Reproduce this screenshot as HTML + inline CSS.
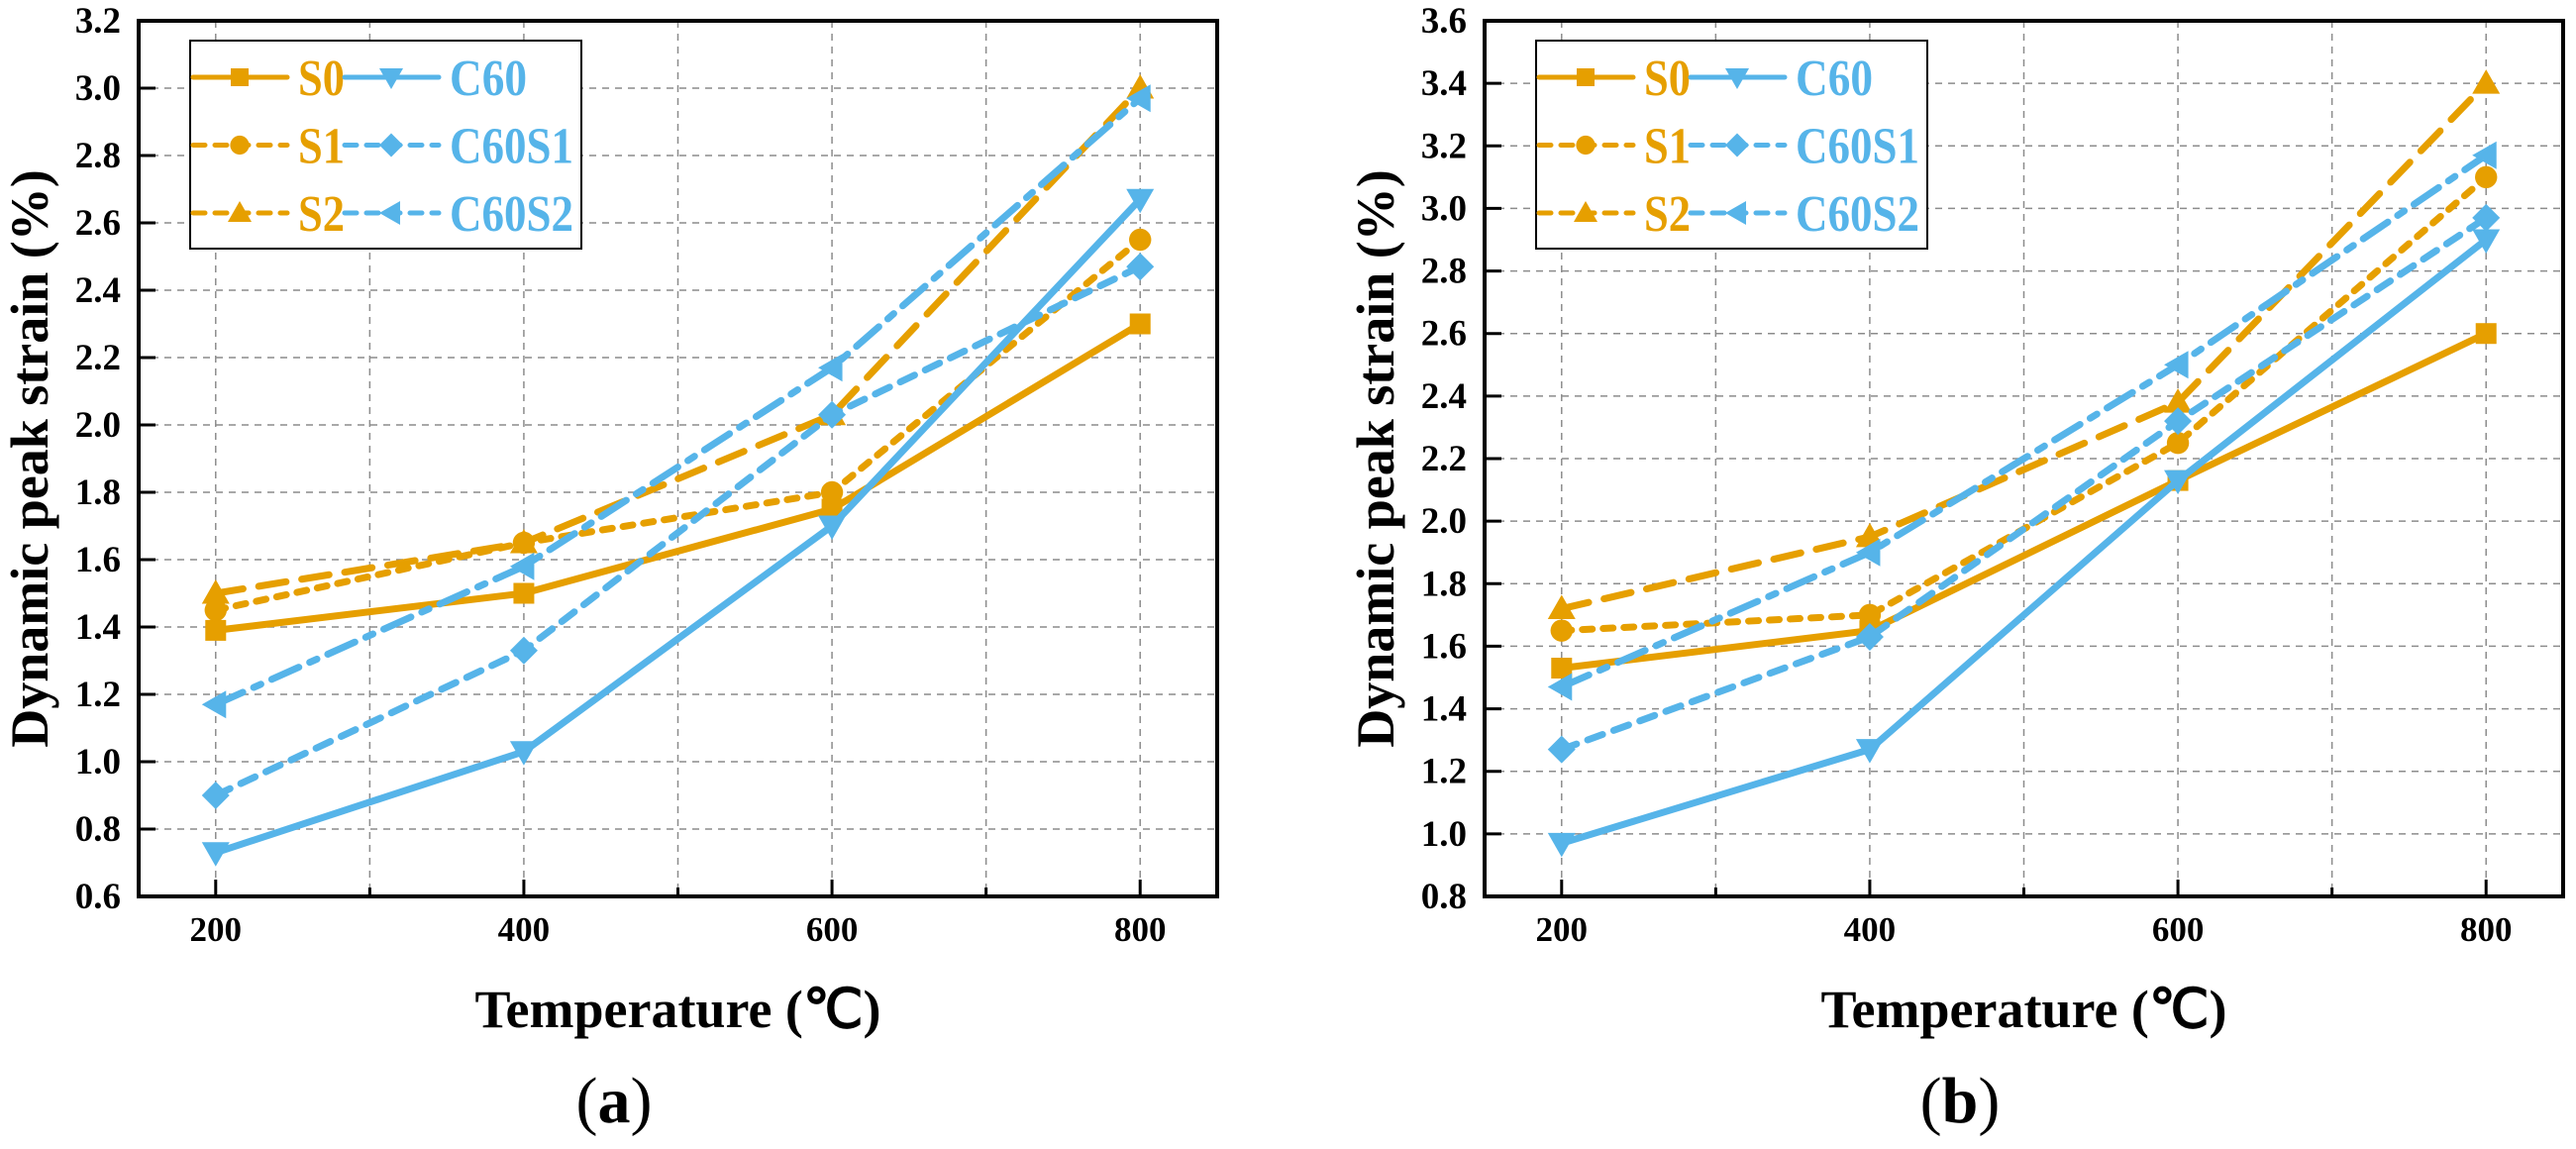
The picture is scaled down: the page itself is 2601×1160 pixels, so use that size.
<!DOCTYPE html>
<html><head><meta charset="utf-8"><style>
html,body{margin:0;padding:0;background:#fff;}
svg{display:block;}
text{font-family:"Liberation Serif",serif;}
</style></head><body>
<svg id="fig" width="2601" height="1160" viewBox="0 0 2601 1160" xmlns="http://www.w3.org/2000/svg"></svg>
<script>
const temps = [200, 400, 600, 800];
const xTicks = [200, 400, 600, 800];
const seriesNames = ["S0", "S1", "S2", "C60", "C60S1", "C60S2"];
const aS0 = [1.39, 1.50, 1.75, 2.30];
const aS1 = [1.45, 1.65, 1.80, 2.55];
const aS2 = [1.50, 1.65, 2.03, 3.00];
const aC60 = [0.73, 1.03, 1.70, 2.67];
const aC60S1 = [0.90, 1.33, 2.03, 2.47];
const aC60S2 = [1.17, 1.58, 2.17, 2.97];
const bS0 = [1.53, 1.65, 2.13, 2.60];
const bS1 = [1.65, 1.70, 2.25, 3.10];
const bS2 = [1.72, 1.95, 2.38, 3.40];
const bC60 = [0.97, 1.27, 2.13, 2.90];
const bC60S1 = [1.27, 1.63, 2.32, 2.97];
const bC60S2 = [1.47, 1.90, 2.50, 3.17];
const aYTicks = [0.6,0.8,1.0,1.2,1.4,1.6,1.8,2.0,2.2,2.4,2.6,2.8,3.0,3.2];
const bYTicks = [0.8,1.0,1.2,1.4,1.6,1.8,2.0,2.2,2.4,2.6,2.8,3.0,3.2,3.4,3.6];

const NS = "http://www.w3.org/2000/svg";
const svg = document.getElementById("fig");
const OR = "#E69F00", BL = "#56B4E9";
const styles = {
  S0:{c:OR,d:"",m:"square"}, S1:{c:OR,d:"10,11",m:"circle"}, S2:{c:OR,d:"28,16",m:"up"},
  C60:{c:BL,d:"",m:"down"}, C60S1:{c:BL,d:"16,12",m:"diamond"}, C60S2:{c:BL,d:"30,12,8,12",m:"left"}
};
function mk(tag, attrs, parent){
  const e = document.createElementNS(NS, tag);
  for (const k in attrs) e.setAttribute(k, attrs[k]);
  (parent||svg).appendChild(e);
  return e;
}
function marker(g, type, cx, cy, col, s){
  let e;
  if (type==="square") e = mk("rect",{x:cx-s*0.75,y:cy-s*0.75,width:s*1.5,height:s*1.5,fill:col},g);
  else if (type==="circle") e = mk("circle",{cx:cx,cy:cy,r:s*0.8,fill:col},g);
  else if (type==="up") e = mk("polygon",{points:`${cx},${cy-s} ${cx-s},${cy+s*0.75} ${cx+s},${cy+s*0.75}`,fill:col},g);
  else if (type==="down") e = mk("polygon",{points:`${cx},${cy+s} ${cx-s},${cy-s*0.75} ${cx+s},${cy-s*0.75}`,fill:col},g);
  else if (type==="left") e = mk("polygon",{points:`${cx-s},${cy} ${cx+s*0.75},${cy-s} ${cx+s*0.75},${cy+s}`,fill:col},g);
  else e = mk("polygon",{points:`${cx},${cy-s} ${cx+s},${cy} ${cx},${cy+s} ${cx-s},${cy}`,fill:col},g);
  
  
}
function panel(id, L, yMin, yMax, yTicks, data, label){
  const R = L + 1089, T = 21, B = 905;
  const g = mk("g",{});
  
  
  const xs = v => L + (v-150)/700*(R-L);
  const ys = v => B - (v-yMin)/(yMax-yMin)*(B-T);
  for (let t=200; t<=800; t+=100){
    const l = mk("line",{x1:xs(t),x2:xs(t),y1:T,y2:B,stroke:"#8c8c8c","stroke-width":1.5,"stroke-dasharray":"7,6"},g);
    
    
  }
  yTicks.forEach(t=>{
    if (t===yMin||t===yMax) return;
    const l = mk("line",{x1:L,x2:R,y1:ys(t),y2:ys(t),stroke:"#8c8c8c","stroke-width":1.5,"stroke-dasharray":"7,6"},g);
    
    
  });
  const order = ["S0","S1","S2","C60","C60S1","C60S2"];
  order.forEach(n=>{
    const st = styles[n], vals = data[n];
    const pts = temps.map((t,i)=>xs(t)+","+ys(vals[i])).join(" ");
    const pl = mk("polyline",{points:pts,fill:"none",stroke:st.c,"stroke-width":7,"stroke-dasharray":st.d,"stroke-linecap":"round","stroke-linejoin":"round"},g);
    
    
    temps.forEach((t,i)=>marker(g, st.m, xs(t), ys(vals[i]), st.c, 14));
  });
  const fr = mk("rect",{x:L,y:T,width:R-L,height:B-T,fill:"none",stroke:"#000","stroke-width":4},g);
  
  
  for (let t=200; t<=800; t+=100){
    const major = xTicks.includes(t);
    const tk = mk("line",{x1:xs(t),x2:xs(t),y1:B,y2:B-(major?17:9),stroke:"#000","stroke-width":3},g);
    
    
  }
  xTicks.forEach(t=>{
    const tx = mk("text",{x:xs(t),y:950,"font-size":35,"font-weight":"bold","text-anchor":"middle"},g);
    tx.textContent = t;
    
    
  });
  yTicks.forEach(t=>{
    const tk = mk("line",{x1:L,x2:L+17,y1:ys(t),y2:ys(t),stroke:"#000","stroke-width":3},g);
    
    
    const tx = mk("text",{x:L-18,y:ys(t)+12,"font-size":37,"font-weight":"bold","text-anchor":"end"},g);
    tx.textContent = t.toFixed(1);
    
    
  });
  const yt = mk("text",{x:0,y:0,"font-size":54,"font-weight":"bold","text-anchor":"middle",transform:`translate(${L-92},${(T+B)/2}) rotate(-90)`},g);
  yt.textContent = "Dynamic peak strain (%)";
  
  
  const xt = mk("text",{x:(L+R)/2,y:1037,"font-size":54,"font-weight":"bold","text-anchor":"middle"},g);
  xt.textContent = "Temperature (℃)";
  
  
  const pl = mk("text",{x:L+480,y:1133,"font-size":66,"text-anchor":"middle"},g);
  pl.innerHTML = '(<tspan font-weight="bold">' + label + '</tspan>)';
  
  
  const lg = mk("g",{},g);
  
  
  const bx = L+52;
  mk("rect",{x:bx,y:41,width:395,height:210,fill:"#fff",stroke:"#000","stroke-width":2},lg);
  const rows = [["S0","C60"],["S1","C60S1"],["S2","C60S2"]];
  const widths = {S0:47,S1:47,S2:47,C60:78,C60S1:125,C60S2:125};
  rows.forEach((r,i)=>{
    const y = 78 + i*68.5;
    r.forEach((n,j)=>{
      const st = styles[n];
      const x0 = bx + 3 + j*153;
      const e = mk("g",{},lg);
      
      
      mk("line",{x1:x0,x2:x0+95,y1:y,y2:y,stroke:st.c,"stroke-width":5,"stroke-dasharray":st.d?"12,10":"","stroke-linecap":"round"},e);
      marker(e, st.m, x0+47, y, st.c, 12);
      const t = mk("text",{x:x0+106,y:y+18,"font-size":52,"font-weight":"bold",fill:st.c,textLength:widths[n],lengthAdjust:"spacingAndGlyphs"},e);
      t.textContent = n;
    });
  });
}
panel("a", 140, 0.6, 3.2, aYTicks, {S0:aS0,S1:aS1,S2:aS2,C60:aC60,C60S1:aC60S1,C60S2:aC60S2}, "a");
panel("b", 1499, 0.8, 3.6, bYTicks, {S0:bS0,S1:bS1,S2:bS2,C60:bC60,C60S1:bC60S1,C60S2:bC60S2}, "b");
</script>
</body></html>
